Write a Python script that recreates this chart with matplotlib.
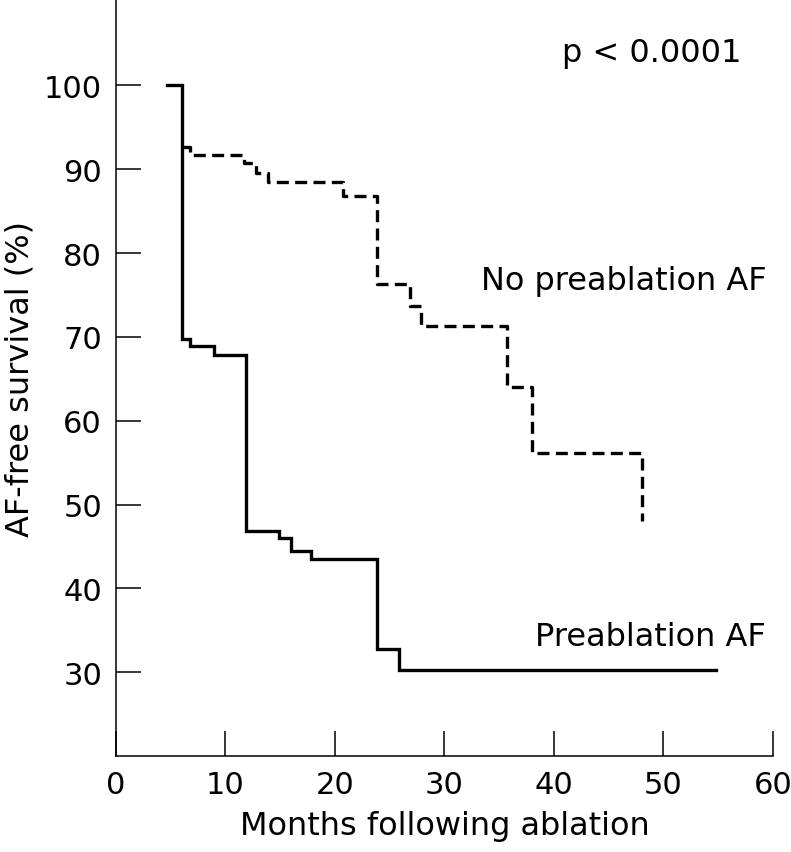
import matplotlib
matplotlib.use("Agg")
import matplotlib.pyplot as plt

plt.rcParams['font.family'] = ['DejaVu Sans']

# Kaplan-Meier steps
pre_t = [4.65, 6.0, 6.8, 9.0, 11.9, 14.9, 16.0, 17.8, 23.8, 25.9, 54.8]
pre_s = [100, 69.7, 68.9, 67.8, 46.85, 46.0, 44.5, 43.5, 32.8, 30.3, 30.3]

nopre_t = [6.1, 6.8, 11.7, 12.8, 13.9, 20.7, 23.8, 26.9, 27.9, 35.75, 38.0, 48.05]
nopre_s = [92.7, 91.65, 90.7, 89.6, 88.5, 86.8, 76.3, 73.7, 71.3, 64.0, 56.1, 48.05]

x_ticks = [0, 10, 20, 30, 40, 50, 60]
y_ticks = [30, 40, 50, 60, 70, 80, 90, 100]

fig = plt.figure(figsize=(7.91, 8.53), dpi=100)
ax = fig.add_axes([0.1466, 0.1125, 0.8304, 0.8875])

ax.step(pre_t, pre_s, where='post', color='black', lw=2.4, solid_joinstyle='miter')
ax.step(nopre_t, nopre_s, where='post', color='black', lw=2.4, linestyle=(0, (3.6, 1.9)))

ax.set_xlim(0, 60)
ax.set_ylim(20, 110.3)
ax.set_xticks(x_ticks)
ax.set_yticks(y_ticks)
ax.tick_params(direction='in', length=18, width=1.1, labelsize=22, pad=10)
for s in ['top', 'right']:
    ax.spines[s].set_visible(False)
for s in ['left', 'bottom']:
    ax.spines[s].set_linewidth(1.1)

ax.set_xlabel("Months following ablation", fontsize=23, labelpad=8)
ax.set_ylabel("AF-free survival (%)", fontsize=23, labelpad=6)

ax.text(57.1, 102.9, "p < 0.0001", fontsize=23, ha='right', va='baseline')
ax.text(59.4, 75.7, "No preablation AF", fontsize=23, ha='right', va='baseline')
ax.text(59.4, 33.3, "Preablation AF", fontsize=23, ha='right', va='baseline')

fig.savefig("out.png", dpi=100)
